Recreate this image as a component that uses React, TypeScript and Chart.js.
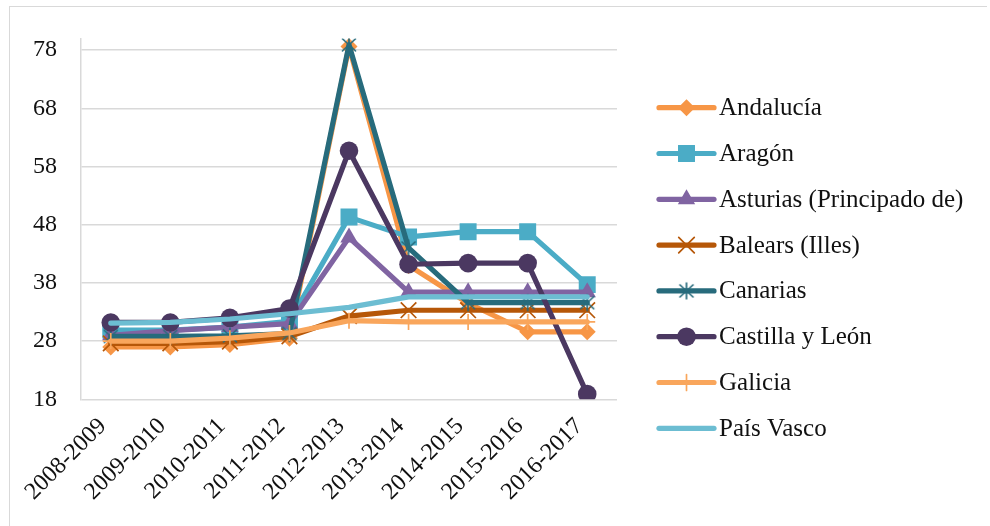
import React, { useEffect, useRef } from "react";
import { Chart, registerables } from "chart.js";
import { drawPoint } from "chart.js/helpers";

Chart.register(...registerables);

// Curso académico
const categories = [
  "2008-2009",
  "2009-2010",
  "2010-2011",
  "2011-2012",
  "2012-2013",
  "2013-2014",
  "2014-2015",
  "2015-2016",
  "2016-2017",
];

const andalucia = [27.0, 27.0, 27.4, 28.5, 78.6, 41.0, 34.5, 29.6, 29.6];
const aragon = [29.9, 29.9, 30.4, 31.4, 49.3, 45.9, 46.8, 46.8, 37.7];
const asturias = [29.0, 29.8, 30.4, 31.0, 45.8, 36.4, 36.4, 36.4, 36.4];
const baleares = [27.6, 27.6, 27.9, 28.8, 32.3, 33.3, 33.3, 33.3, 33.3];
const canarias = [28.8, 28.8, 28.9, 29.3, 78.9, 44.0, 34.6, 34.6, 34.6];
const castillaLeon = [31.2, 31.2, 32.0, 33.6, 60.7, 41.2, 41.4, 41.4, 18.9];
const galicia = [28.0, 28.0, 28.5, 29.4, 31.5, 31.3, 31.3, 31.3, 31.3];
const paisVasco = [31.1, 31.2, 31.8, 32.7, 33.8, 35.6, 35.6, 35.6, 35.6];

const yTicks = [18, 28, 38, 48, 58, 68, 78];

const FONT = '"Liberation Serif", "Times New Roman", serif';
const GRID = "#d9d9d9";
const LINE_W = 5.2;

// Asterisk marker: an X crossed by a vertical stroke
function makeAsterisk(color: string): HTMLCanvasElement {
  const c = document.createElement("canvas");
  c.width = 20;
  c.height = 20;
  const g = c.getContext("2d")!;
  g.strokeStyle = color;
  g.lineWidth = 1.7;
  g.beginPath();
  g.moveTo(3, 3.5);
  g.lineTo(17, 16.5);
  g.moveTo(17, 3.5);
  g.lineTo(3, 16.5);
  g.moveTo(10, 1.5);
  g.lineTo(10, 18.5);
  g.stroke();
  return c;
}

type Series = {
  label: string;
  data: number[];
  color: string;
  pointStyle: any;
  radius: number;
  pointBorder: number;
};

function buildSeries(): Series[] {
  return [
    { label: "Andalucía", data: andalucia, color: "#F79646", pointStyle: "rectRot", radius: 8.5, pointBorder: 0 },
    { label: "Aragón", data: aragon, color: "#4BACC6", pointStyle: "rect", radius: 12, pointBorder: 0 },
    { label: "Asturias (Principado de)", data: asturias, color: "#8064A2", pointStyle: "triangle", radius: 10, pointBorder: 0 },
    { label: "Balears (Illes)", data: baleares, color: "#B65708", pointStyle: "crossRot", radius: 11, pointBorder: 1.7 },
    { label: "Canarias", data: canarias, color: "#276B7C", pointStyle: makeAsterisk("#276B7C"), radius: 10, pointBorder: 0 },
    { label: "Castilla y León", data: castillaLeon, color: "#4B3861", pointStyle: "circle", radius: 9.3, pointBorder: 0 },
    { label: "Galicia", data: galicia, color: "#F9A65C", pointStyle: "cross", radius: 8, pointBorder: 1.7 },
    { label: "País Vasco", data: paisVasco, color: "#6CBDD2", pointStyle: false, radius: 0, pointBorder: 0 },
  ];
}

export default function App() {
  const canvasRef = useRef<HTMLCanvasElement | null>(null);

  useEffect(() => {
    if (!canvasRef.current) return;
    const series = buildSeries();

    const legendPlugin = {
      id: "sideLegend",
      afterDraw(chart: any) {
        const ctx = chart.ctx as CanvasRenderingContext2D;
        const x0 = 659;
        const x1 = 714;
        const top = 107.7;
        const step = 45.8;
        ctx.save();
        series.forEach((s, i) => {
          const y = top + i * step;
          ctx.strokeStyle = s.color;
          ctx.lineWidth = LINE_W;
          ctx.lineCap = "round";
          ctx.beginPath();
          ctx.moveTo(x0, y);
          ctx.lineTo(x1, y);
          ctx.stroke();
          if (s.pointStyle) {
            ctx.fillStyle = s.color;
            ctx.strokeStyle = s.color;
            ctx.lineWidth = s.pointBorder;
            drawPoint(ctx, { pointStyle: s.pointStyle, radius: s.radius, rotation: 0, borderWidth: s.pointBorder } as any, (x0 + x1) / 2, y);
          }
          ctx.fillStyle = "#111";
          ctx.font = `25px ${FONT}`;
          ctx.textAlign = "left";
          ctx.textBaseline = "middle";
          ctx.fillText(s.label, 719, y + 1);
        });
        ctx.restore();
      },
    };

    const chart = new Chart(canvasRef.current, {
      type: "line",
      data: {
        labels: categories,
        datasets: series.map((s, i) => ({
          label: s.label,
          data: s.data,
          borderColor: s.color,
          backgroundColor: s.color,
          borderWidth: LINE_W,
          borderJoinStyle: "round",
          borderCapStyle: "round",
          tension: 0,
          fill: false,
          pointStyle: s.pointStyle,
          pointRadius: s.radius,
          pointHoverRadius: s.radius,
          pointBorderWidth: s.pointBorder,
          pointBorderColor: s.color,
          pointBackgroundColor: s.color,
          order: series.length - 1 - i,
        })),
      },
      options: {
        animation: false,
        responsive: false,
        events: [],
        layout: { padding: { top: 35, right: 373, bottom: 0, left: 0 } },
        plugins: {
          legend: { display: false },
          tooltip: { enabled: false },
        },
        scales: {
          x: {
            type: "category",
            offset: true,
            grid: { display: false, drawTicks: false },
            border: { display: false },
            ticks: {
              color: "#111",
              font: { family: FONT, size: 24 },
              minRotation: 45,
              maxRotation: 45,
              padding: 13,
              labelOffset: -8,
              autoSkip: false,
            },
            afterFit(scale: any) {
              scale.height = 126.7;
            },
          },
          y: {
            min: 18,
            max: 80,
            grid: { color: GRID, lineWidth: 1.5, drawTicks: false },
            border: { display: true, color: GRID, width: 1.5 },
            ticks: {
              color: "#111",
              font: { family: FONT, size: 24 },
              padding: 24,
            },
            afterBuildTicks(scale: any) {
              scale.ticks = yTicks.map((v) => ({ value: v }));
            },
            afterFit(scale: any) {
              scale.width = 81;
            },
          },
        },
      },
      plugins: [legendPlugin],
    });

    return () => chart.destroy();
  }, []);

  return (
    <div style={{ position: "absolute", left: 0, top: 0, width: 990, height: 526, background: "#fff" }}>
      <div
        style={{
          position: "absolute",
          left: 9,
          top: 6,
          width: 977,
          height: 520,
          borderTop: `1.5px solid ${GRID}`,
          borderLeft: `1.5px solid ${GRID}`,
        }}
      />
      <canvas ref={canvasRef} width={990} height={526} style={{ position: "absolute", left: 0, top: 0 }} />
    </div>
  );
}
